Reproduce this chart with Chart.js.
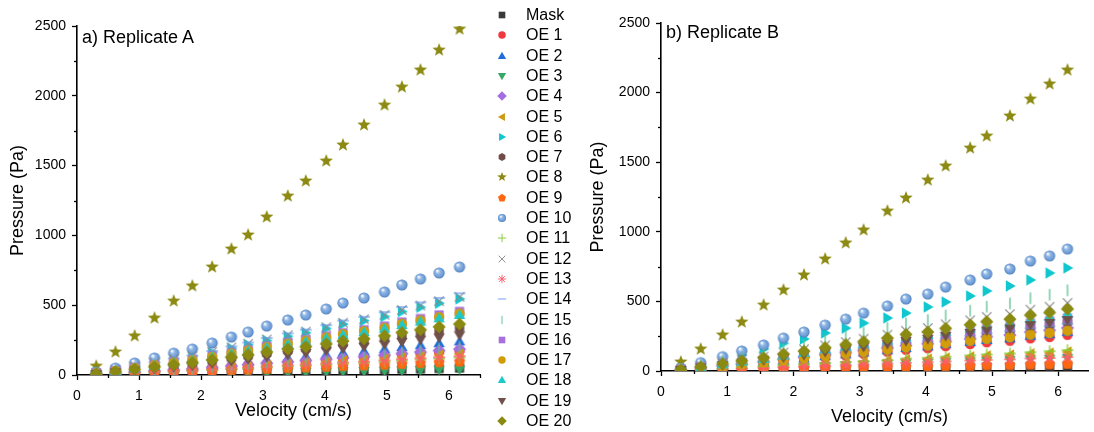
<!DOCTYPE html>
<html><head><meta charset="utf-8">
<script src="https://cdn.jsdelivr.net/npm/chart.js@4"></script>
<style>
html,body{margin:0;padding:0;background:#fff;width:1094px;height:432px;overflow:hidden;font-family:"Liberation Sans",Arial,sans-serif;}
#wrapA{position:absolute;left:0;top:0;width:490px;height:432px;}
#wrapB{position:absolute;left:580px;top:0;width:514px;height:432px;}
.ptitle{position:absolute;font-size:18px;line-height:18px;color:#000;white-space:nowrap;}
#legend{position:absolute;left:0;top:0;}
.li{position:absolute;height:20px;line-height:20px;font-size:16px;color:#000;white-space:nowrap;}
.lm{position:absolute;}
</style>
</head><body>
<div id="wrapA"><canvas id="cA" width="490" height="432"></canvas></div>
<div id="wrapB"><canvas id="cB" width="514" height="432"></canvas></div>
<div class="ptitle" style="left:82px;top:28px;">a) Replicate A</div>
<div class="ptitle" style="left:666px;top:23px;">b) Replicate B</div>
<div id="legend"></div>
<script>
// ---------------- DATA ----------------
const seriesNames = ["Mask","OE 1","OE 2","OE 3","OE 4","OE 5","OE 6","OE 7","OE 8","OE 9","OE 10",
  "OE 11","OE 12","OE 13","OE 14","OE 15","OE 16","OE 17","OE 18","OE 19","OE 20"];
const xTicks = [0,1,2,3,4,5,6];
const yTicks = [0,500,1000,1500,2000,2500];

// Velocity (cm/s)
const velocityA = [0.31,0.62,0.93,1.25,1.56,1.86,2.18,2.49,2.76,3.06,3.40,3.69,4.02,4.29,4.63,4.96,5.24,5.54,5.84,6.17];
const velocityB = [0.30,0.60,0.93,1.22,1.55,1.85,2.16,2.48,2.79,3.06,3.42,3.70,4.03,4.30,4.67,4.92,5.27,5.58,5.87,6.14];

// Replicate A pressure (Pa)
const A_Mask = [1,3,6,8,10,12,15,18,20,23,25,28,31,33,36,38,42,44,47,50];
const A_OE1  = [5,11,19,28,36,42,52,61,70,79,89,97,107,117,125,135,146,156,165,175];
const A_OE2  = [6,16,27,38,49,58,71,84,96,109,122,133,147,160,171,185,200,213,227,240];
const A_OE3  = [1,3,4,6,8,10,12,14,16,18,20,22,24,27,29,31,33,36,38,40];
const A_OE4  = [5,12,21,29,38,44,55,65,74,84,94,103,113,123,132,142,154,164,175,185];
const A_OE5  = [4,10,17,24,30,36,44,53,60,68,76,83,92,100,107,115,125,133,142,150];
const A_OE6  = [14,35,60,86,111,131,161,191,217,247,277,303,333,364,389,419,454,485,514,545];
const A_OE7  = [9,22,37,53,68,80,99,118,133,152,171,186,205,223,239,258,279,298,316,335];
const A_OE8  = [64,165,280,408,530,638,774,903,1003,1132,1282,1390,1533,1648,1791,1934,2063,2185,2328,2478];
const A_OE9  = [2,6,11,15,19,23,28,33,38,43,48,53,58,63,68,73,79,84,90,95];
const A_OE10 = [20,50,86,122,157,186,229,272,308,351,394,430,473,516,552,595,645,688,731,774];
const A_OE11 = [3,8,14,20,25,30,37,44,50,57,64,70,76,83,89,96,104,111,118,125];
const A_OE12 = [15,36,62,88,114,134,166,197,223,254,285,311,342,374,399,431,466,498,529,560];
const A_OE13 = [4,9,15,21,27,32,40,47,54,61,69,75,82,90,96,104,112,120,127,135];
const A_OE14 = [15,38,65,92,119,140,173,205,233,265,298,325,357,390,417,450,487,520,552,585];
const A_OE15 = [5,13,22,32,41,48,59,70,80,91,102,111,122,133,143,154,167,178,189,200];
const A_OE16 = [12,30,51,72,92,109,135,160,181,206,232,253,278,303,324,350,379,404,430,455];
const A_OE17 = [11,29,49,70,89,106,130,154,175,199,224,245,269,293,314,338,367,391,415,440];
const A_OE18 = [11,28,48,68,87,103,127,151,171,195,219,239,263,287,307,331,358,382,406,430];
const A_OE19 = [7,19,32,45,58,68,84,100,113,129,145,158,174,190,203,219,237,253,269,285];
const A_OE20 = [9,24,41,58,74,88,108,128,145,165,186,203,223,243,260,281,304,324,345,365];

// Replicate B pressure (Pa)
const B_Mask = [1,2,4,6,8,10,12,14,15,17,19,21,23,25,27,29,30,32,34,36];
const B_OE1  = [6,18,31,43,55,70,83,98,111,124,139,153,164,179,194,207,218,235,245,260];
const B_OE2  = [6,19,33,46,60,76,90,106,119,133,149,165,177,193,209,223,234,253,264,280];
const B_OE3  = [2,6,11,15,20,25,30,35,40,44,50,55,59,64,69,74,78,84,88,93];
const B_OE4  = [7,21,37,51,66,84,99,117,132,147,165,183,196,213,232,247,259,280,293,310];
const B_OE5  = [3,9,16,22,29,37,44,52,58,65,73,81,86,94,102,109,115,124,129,137];
const B_OE6  = [15,40,75,115,158,199,230,273,308,344,381,416,460,496,539,575,611,654,704,740];
const B_OE7  = [8,24,41,57,75,95,112,132,149,166,187,207,221,241,261,279,293,316,330,350];
const B_OE8  = [65,158,259,352,474,582,690,805,920,1013,1149,1243,1372,1473,1602,1688,1832,1954,2062,2162];
const B_OE9  = [1,3,6,8,11,14,16,19,21,24,27,30,32,34,37,40,42,45,47,50];
const B_OE10 = [20,60,103,144,187,237,280,330,373,416,467,517,553,603,654,697,733,790,827,876];
const B_OE11 = [3,10,18,25,32,41,48,57,64,71,80,89,95,103,112,119,126,135,142,150];
const B_OE12 = [11,33,58,80,104,133,156,184,208,232,261,289,309,336,365,389,409,441,462,489];
const B_OE13 = [2,7,12,16,21,27,32,38,43,48,53,59,63,69,75,80,84,90,94,100];
const B_OE14 = [8,23,40,56,72,92,109,128,145,162,181,201,215,234,254,271,285,307,321,340];
const B_OE15 = [13,39,68,95,124,157,186,219,247,276,309,342,366,399,433,462,485,523,548,580];
const B_OE16 = [9,26,45,62,81,103,122,143,162,181,203,224,240,261,284,302,318,343,359,380];
const B_OE17 = [7,20,34,48,62,79,93,109,124,138,155,171,183,200,217,231,243,262,274,290];
const B_OE18 = [9,28,48,67,87,111,131,155,175,195,219,242,259,282,306,326,343,370,387,410];
const B_OE19 = [8,25,43,60,78,99,117,138,156,174,195,216,231,252,273,291,306,330,346,366];
const B_OE20 = [10,30,53,73,95,121,142,168,190,211,237,263,281,306,332,354,372,401,420,445];

const pressureA = [A_Mask,A_OE1,A_OE2,A_OE3,A_OE4,A_OE5,A_OE6,A_OE7,A_OE8,A_OE9,A_OE10,
  A_OE11,A_OE12,A_OE13,A_OE14,A_OE15,A_OE16,A_OE17,A_OE18,A_OE19,A_OE20];
const pressureB = [B_Mask,B_OE1,B_OE2,B_OE3,B_OE4,B_OE5,B_OE6,B_OE7,B_OE8,B_OE9,B_OE10,
  B_OE11,B_OE12,B_OE13,B_OE14,B_OE15,B_OE16,B_OE17,B_OE18,B_OE19,B_OE20];

// ---------------- STYLE ----------------
const markerTypes = ['square','circle','triUp','triDown','diamond','triLeft','triRight','hex','star','pent','sphere',
  'plus','x','aster','hdash','vdash','square','circle','triUp','triDown','diamond'];
const markerColors = ['#3a3a3a','#f0393e','#1f6ddb','#35a865','#a36ee0','#cc9b12','#12c6cf','#6f4c48','#8c8a12','#ff6610','#6b9bd6',
  '#84cc2e','#8a8a8a','#ff5c6c','#6d9ae8','#5cc28e','#a770dd','#d19d0a','#1fc9c9','#70504b','#8a8a12'];
const markerSizes = {square:4.6,circle:5.2,triUp:6.6,triDown:6.6,triLeft:6.6,triRight:6.6,diamond:6.6,hex:5.4,star:7,pent:5.8,sphere:5.6,
  plus:5.8,x:5.8,aster:5.8,hdash:5.8,vdash:5.8};
const FONT = '"Liberation Sans", Arial, sans-serif';

function poly(ctx,cx,cy,r,n,rot){
  ctx.beginPath();
  for(let k=0;k<n;k++){const a=rot+k*2*Math.PI/n;const px=cx+r*Math.cos(a),py=cy+r*Math.sin(a);k?ctx.lineTo(px,py):ctx.moveTo(px,py);}
  ctx.closePath();ctx.fill();
}
function drawMarker(ctx,type,color,cx,cy,s){
  const r=markerSizes[type]*s;
  ctx.fillStyle=color;ctx.strokeStyle=color;ctx.lineWidth=1.3*s;
  switch(type){
    case 'square': ctx.fillRect(cx-r,cy-r,2*r,2*r);break;
    case 'circle': ctx.beginPath();ctx.arc(cx,cy,r,0,2*Math.PI);ctx.fill();break;
    case 'triUp': poly(ctx,cx,cy+0.8*s,r,3,-Math.PI/2);break;
    case 'triDown': poly(ctx,cx,cy-0.8*s,r,3,Math.PI/2);break;
    case 'triLeft': poly(ctx,cx+0.8*s,cy,r,3,Math.PI);break;
    case 'triRight': poly(ctx,cx-0.8*s,cy,r,3,0);break;
    case 'diamond': poly(ctx,cx,cy,r,4,-Math.PI/2);break;
    case 'hex': poly(ctx,cx,cy,r,6,-Math.PI/2);break;
    case 'pent': poly(ctx,cx,cy,r,5,-Math.PI/2);break;
    case 'star': {
      ctx.beginPath();
      for(let k=0;k<10;k++){const a=-Math.PI/2+k*Math.PI/5;const rr=k%2?r*0.42:r;
        const px=cx+rr*Math.cos(a),py=cy+rr*Math.sin(a);k?ctx.lineTo(px,py):ctx.moveTo(px,py);}
      ctx.closePath();ctx.fill();break;}
    case 'sphere': {
      const g=ctx.createRadialGradient(cx-0.35*r,cy-0.4*r,0.1*r,cx,cy,r);
      g.addColorStop(0,'#f4f8fd');g.addColorStop(0.35,'#8fb5e4');g.addColorStop(0.8,color);g.addColorStop(1,'#4a78b4');
      ctx.fillStyle=g;ctx.beginPath();ctx.arc(cx,cy,r,0,2*Math.PI);ctx.fill();break;}
    case 'plus': ctx.beginPath();ctx.moveTo(cx-r,cy);ctx.lineTo(cx+r,cy);ctx.moveTo(cx,cy-r);ctx.lineTo(cx,cy+r);ctx.stroke();break;
    case 'x': {const d=r*0.8;ctx.beginPath();ctx.moveTo(cx-d,cy-d);ctx.lineTo(cx+d,cy+d);ctx.moveTo(cx-d,cy+d);ctx.lineTo(cx+d,cy-d);ctx.stroke();break;}
    case 'aster': {ctx.beginPath();for(let k=0;k<4;k++){const a=k*Math.PI/4;ctx.moveTo(cx-r*Math.cos(a),cy-r*Math.sin(a));ctx.lineTo(cx+r*Math.cos(a),cy+r*Math.sin(a));}ctx.stroke();break;}
    case 'hdash': ctx.beginPath();ctx.moveTo(cx-r,cy);ctx.lineTo(cx+r,cy);ctx.stroke();break;
    case 'vdash': ctx.beginPath();ctx.moveTo(cx,cy-r);ctx.lineTo(cx,cy+r);ctx.stroke();break;
  }
}
function makeMarkerCanvas(i,s,size){
  const c=document.createElement('canvas');c.width=size;c.height=size;
  drawMarker(c.getContext('2d'),markerTypes[i],markerColors[i],size/2,size/2,s);
  return c;
}
const chartMarkers = seriesNames.map((n,i)=>makeMarkerCanvas(i,1,18));

// ---------------- LEGEND ----------------
const legend=document.getElementById('legend');
seriesNames.forEach((name,i)=>{
  const cy=15+i*20.3;
  const m=makeMarkerCanvas(i,0.72,16);m.className='lm';m.style.left=(502-8)+'px';m.style.top=(cy-8)+'px';
  legend.appendChild(m);
  const t=document.createElement('div');t.className='li';t.textContent=name;t.style.left='526px';t.style.top=(cy-10)+'px';
  legend.appendChild(t);
});

// ---------------- CHARTS ----------------
const minorTicks={id:'minorTicks',afterDraw(chart){
  const ctx=chart.ctx,xs=chart.scales.x,ys=chart.scales.y;
  ctx.save();ctx.strokeStyle='#000';ctx.lineWidth=1.3;
  for(let v=250;v<ys.max;v+=500){const py=Math.round(ys.getPixelForValue(v))+0.5;ctx.beginPath();ctx.moveTo(ys.right-3,py);ctx.lineTo(ys.right,py);ctx.stroke();}
  for(let v=0.5;v<=xs.max+1e-9;v+=1){const px=Math.round(xs.getPixelForValue(v))+0.5;ctx.beginPath();ctx.moveTo(px,xs.top);ctx.lineTo(px,xs.top+3);ctx.stroke();}
  ctx.restore();
}};

function makeChart(id,velocity,pressure,cfg){
  const datasets=seriesNames.map((name,i)=>({
    label:name,
    data:velocity.map((x,j)=>({x:x,y:pressure[i][j]})),
    pointStyle:chartMarkers[i],pointRadius:6,pointBorderWidth:0,order:-i,showLine:false
  }));
  return new Chart(document.getElementById(id),{
    type:'scatter',
    data:{datasets},
    options:{
      responsive:false,animation:false,events:[],
      layout:{padding:{top:cfg.top,right:cfg.right,left:0,bottom:0}},
      plugins:{legend:{display:false},tooltip:{enabled:false}},
      scales:{
        x:{type:'linear',min:0,max:cfg.xmax,
          afterBuildTicks:s=>{s.ticks=xTicks.map(v=>({value:v}));},
          ticks:{color:'#000',font:{size:14,family:FONT},padding:8,maxRotation:0,autoSkip:false,callback:v=>String(v)},
          grid:{drawOnChartArea:false,drawTicks:true,tickLength:5,tickColor:'#000',tickWidth:1.3},
          border:{display:true,color:'#000',width:1.6},
          title:{display:true,text:'      Velocity (cm/s)',color:'#000',font:{size:18,family:FONT},padding:{top:0,bottom:cfg.xtpad}},
          afterFit:s=>{s.height=cfg.xh;}
        },
        y:{type:'linear',min:0,max:2500,
          afterBuildTicks:s=>{s.ticks=yTicks.map(v=>({value:v}));},
          ticks:{color:'#000',font:{size:14,family:FONT},padding:6,callback:v=>String(v)},
          grid:{drawOnChartArea:false,drawTicks:true,tickLength:5,tickColor:'#000',tickWidth:1.3},
          border:{display:true,color:'#000',width:1.6},
          title:{display:true,text:'Pressure (Pa)',color:'#000',font:{size:18,family:FONT},padding:{top:7,bottom:0}},
          afterFit:s=>{s.width=cfg.yw;}
        }
      }
    },
    plugins:[minorTicks]
  });
}
makeChart('cA',velocityA,pressureA,{top:26,right:10,xh:57,yw:77,xmax:6.5,xtpad:10});
makeChart('cB',velocityB,pressureB,{top:23,right:0,xh:61,yw:81,xmax:6.45,xtpad:4});
</script>
</body></html>
